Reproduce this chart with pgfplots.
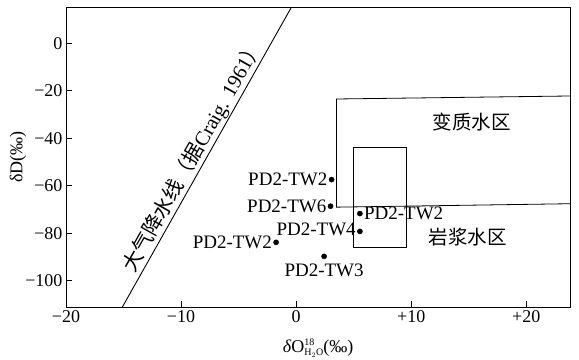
\documentclass[border=0pt]{standalone}
\usepackage{amsmath}
\usepackage{fontspec}
\setmainfont{Liberation Serif}
\newfontfamily\cjk{Noto Sans CJK SC}
\usepackage{pgfplots}
\pgfplotsset{compat=1.18}
\begin{document}
\begin{tikzpicture}[font=\fontsize{18bp}{21bp}\selectfont]
\useasboundingbox (-66bp,-53bp) rectangle (513bp,307bp);
\begin{axis}[
  scale only axis, width=504bp, height=300bp,
  xmin=-20, xmax=23.8, ymin=-111, ymax=15.2,
  tick pos=left, tick align=inside,
  major tick length=6bp,
  xtick={-20,-10,0,10,20}, xticklabels={−20,−10,0,+10,+20},
  ytick={-100,-80,-60,-40,-20,0}, yticklabels={−100,−80,−60,−40,−20,0},
  axis line style={line width=0.9bp},
  every tick/.style={black, line width=0.9bp},
  xlabel={\textit{δ}O\raisebox{-0.35ex}{\fontsize{10bp}{10bp}\selectfont\shortstack[l]{18\\H$_2$O}}(‰)},
  ylabel={δD(‰)},
  xlabel style={at={(axis description cs:0.5,-0.137)}, anchor=center},
  ylabel style={at={(axis description cs:-0.095,0.5)}, anchor=center},
  clip=true,
]
% meteoric water line
\addplot[black, line width=0.9bp] coordinates {(-15.1,-111) (-0.4,15.2)};
% metamorphic water region
\addplot[black, line width=0.8bp] coordinates {(26,-67.4) (3.5,-69) (3.5,-23.5) (26,-22.1)};
% magmatic water region
\addplot[black, line width=0.8bp] coordinates {(5,-86) (5,-44) (9.6,-44) (9.6,-86) (5,-86)};
% samples
\addplot[only marks, mark=*, mark size=2.6bp, black] coordinates {
  (3.08,-57.4) (2.99,-68.6) (5.54,-71.7) (5.54,-79.2) (-1.74,-83.8) (2.43,-89.7)};
\begin{scope}[font=\fontsize{19bp}{21bp}\selectfont]
\node[anchor=east, inner sep=1bp, xshift=-3bp] at (axis cs:3.08,-57.4) {PD2-TW2};
\node[anchor=east, inner sep=1bp, xshift=-3bp] at (axis cs:2.99,-68.6) {PD2-TW6};
\node[anchor=west, inner sep=1bp, xshift=3bp] at (axis cs:5.54,-71.7) {PD2-TW2};
\node[anchor=east, inner sep=1bp, xshift=-3bp, yshift=2bp] at (axis cs:5.54,-79.2) {PD2-TW4};
\node[anchor=east, inner sep=1bp, xshift=-3bp] at (axis cs:-1.74,-83.8) {PD2-TW2};
\node[anchor=north, inner sep=1bp, yshift=-6bp] at (axis cs:2.43,-89.7) {PD2-TW3};
\end{scope}
\node at (axis cs:15.25,-33) {\cjk\fontsize{19.5bp}{21bp}\selectfont 变质水区};
\node at (axis cs:14.9,-81.7) {\cjk\fontsize{19.5bp}{21bp}\selectfont 岩浆水区};
\node[rotate=60.5, anchor=south, inner sep=1.5bp, font=\fontsize{20.5bp}{22bp}\selectfont] at (axis cs:-8.0,-50.2)
  {{\cjk 大气降水线（据}Craig. 1961{\cjk ）}};
\end{axis}
\end{tikzpicture}
\end{document}
